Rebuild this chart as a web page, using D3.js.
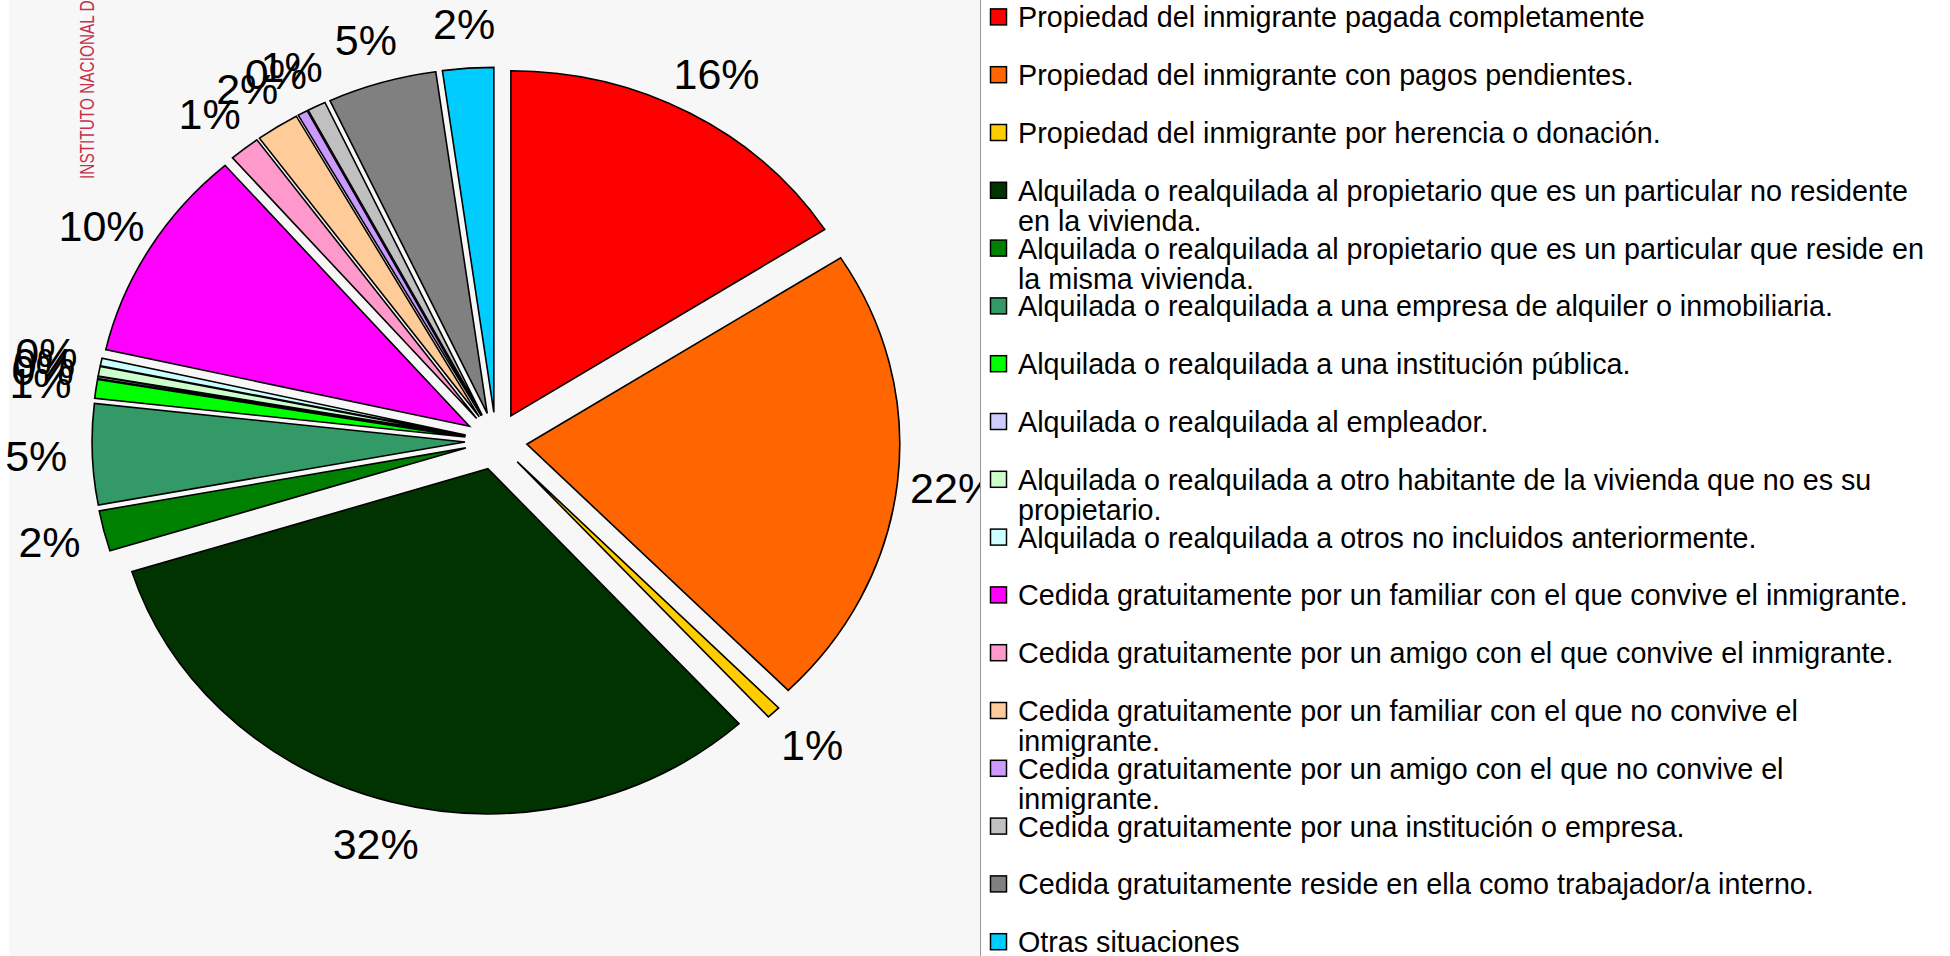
<!DOCTYPE html>
<html>
<head>
<meta charset="utf-8">
<script src="https://cdn.jsdelivr.net/npm/d3@7"></script>
<style>
  body { margin: 0; background: #fff; }
  svg { display: block; font-family: "Liberation Sans", Arial, sans-serif; }
</style>
</head>
<body>
<svg id="graf"></svg>
<script>
let categorias = [
  'Propiedad del inmigrante pagada completamente',
  'Propiedad del inmigrante con pagos pendientes.',
  'Propiedad del inmigrante por herencia o donación.',
  'Alquilada o realquilada al propietario que es un particular no residente en la vivienda.',
  'Alquilada o realquilada al propietario que es un particular que reside en la misma vivienda.',
  'Alquilada o realquilada a una empresa de alquiler o inmobiliaria.',
  'Alquilada o realquilada a una institución pública.',
  'Alquilada o realquilada al empleador.',
  'Alquilada o realquilada a otro habitante de la vivienda que no es su propietario.',
  'Alquilada o realquilada a otros no incluidos anteriormente.',
  'Cedida gratuitamente por un familiar con el que convive el inmigrante.',
  'Cedida gratuitamente por un amigo con el que convive el inmigrante.',
  'Cedida gratuitamente por un familiar con el que no convive el inmigrante.',
  'Cedida gratuitamente por un amigo con el que no convive el inmigrante.',
  'Cedida gratuitamente por una institución o empresa.',
  'Cedida gratuitamente reside en ella como trabajador/a interno.',
  'Otras situaciones'
]

// porcentajes
let valores = [15.9, 21.7, 0.6, 31.9, 1.9, 4.7, 0.88, 0.1, 0.45, 0.35, 10.06, 1.33, 1.87, 0.43, 0.8, 4.72, 2.2]

let colores = ['#ff0000', '#ff6600', '#ffcc00', '#003300', '#008000', '#339966', '#00ff00', '#ccccff',
               '#ccffcc', '#ccffff', '#ff00ff', '#ff99cc', '#ffcc99', '#cc99ff', '#c0c0c0', '#808080', '#00ccff']

function graficar() {
  let w = 1950
  let h = 956
  let cx = 496, cy = 441
  let r = 345
  let sx = 1.081      // la tarta es una elipse, algo mas ancha que alta
  let explode = 28.7
  let labRx = 460, labRy = 418

  let svg = d3.select('#graf')
              .attr('width', w)
              .attr('height', h)

  // fondo del area de la tarta
  svg.append('rect')
    .attr('x', 9).attr('y', 0)
    .attr('width', 971).attr('height', h)
    .style('fill', '#f7f7f7')

  // texto vertical del INE (estrecho)
  svg.append('text')
    .attr('transform', 'translate(94,179) rotate(-90) scale(0.77,1)')
    .style('font-size', '20px')
    .style('fill', '#c4314b')
    .text('INSTITUTO NACIONAL DE ESTADISTICA')

  let total = d3.sum(valores)
  let pie = d3.pie().sort(null).value(d => d)
  let arcs = pie(valores)
  let arc = d3.arc().innerRadius(0).outerRadius(r)
  let mid = d => (d.startAngle + d.endAngle) / 2

  let g = svg.append('g')
    .attr('transform', 'translate(' + cx + ',' + cy + ') scale(' + sx + ',1)')

  g.selectAll('path')
    .data(arcs)
    .enter()
    .append('path')
    .attr('d', arc)
    .attr('transform', d => 'translate(' + (explode * Math.sin(mid(d))) + ',' + (-explode * Math.cos(mid(d))) + ')')
    .style('fill', (d, i) => colores[i])
    .style('stroke', '#000')
    .style('stroke-width', 1.6)
    .attr('vector-effect', 'non-scaling-stroke')

  svg.selectAll('text.pct')
    .data(arcs)
    .enter()
    .append('text')
    .attr('class', 'pct')
    .attr('x', d => cx + labRx * Math.sin(mid(d)))
    .attr('y', d => cy - labRy * Math.cos(mid(d)))
    .attr('text-anchor', 'middle')
    .attr('dominant-baseline', 'central')
    .style('font-size', '43px')
    .text(d => Math.round(d.value / total * 100) + '%')

  // leyenda
  svg.append('rect')
    .attr('x', 980).attr('y', 0)
    .attr('width', w - 980).attr('height', h)
    .style('fill', '#fff')
  svg.append('line')
    .attr('x1', 980.5).attr('x2', 980.5)
    .attr('y1', 0).attr('y2', h)
    .style('stroke', '#999')

  let paso = 57.8
  let maxW = 909
  let ley = svg.selectAll('g.ley')
    .data(categorias)
    .enter()
    .append('g')
    .attr('class', 'ley')
    .attr('transform', (d, i) => 'translate(990,' + (17.4 + i * paso) + ')')

  ley.append('rect')
    .attr('x', 0.5).attr('y', -8.5)
    .attr('width', 16).attr('height', 16)
    .style('fill', (d, i) => colores[i])
    .style('stroke', '#000')
    .style('stroke-width', 1.5)

  ley.append('text')
    .attr('x', 28)
    .attr('y', 0)
    .attr('dominant-baseline', 'central')
    .style('font-size', '28.7px')
    .each(function(d) {
      let t = d3.select(this)
      let palabras = d.split(' ')
      let linea = []
      let ts = t.append('tspan').attr('x', 28).attr('dy', 0)
      palabras.forEach(function(p) {
        linea.push(p)
        ts.text(linea.join(' '))
        if (ts.node().getComputedTextLength() > maxW && linea.length > 1) {
          linea.pop()
          ts.text(linea.join(' '))
          linea = [p]
          ts = t.append('tspan').attr('x', 28).attr('dy', 30).text(p)
        }
      })
    })
}

graficar()
</script>
</body>
</html>
